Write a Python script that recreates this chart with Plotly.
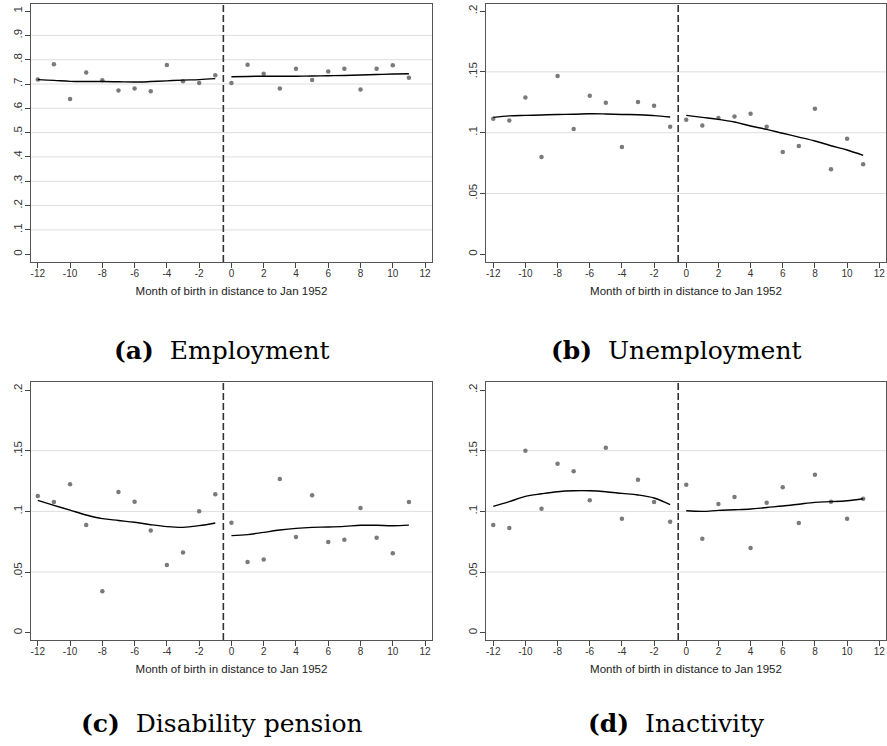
import plotly.graph_objects as go

months = list(range(-12, 12))
left_months = list(range(-12, 0))
right_months = list(range(0, 12))

# Binned means (dots)
employment = [0.718, 0.781, 0.638, 0.747, 0.715, 0.673, 0.681, 0.670, 0.778, 0.711, 0.704, 0.736,
              0.704, 0.779, 0.742, 0.681, 0.763, 0.716, 0.751, 0.763, 0.677, 0.763, 0.777, 0.726]
unemployment = [0.1115, 0.110, 0.129, 0.080, 0.1466, 0.103, 0.1304, 0.1247, 0.0882, 0.1252, 0.1222, 0.1049,
                0.1107, 0.106, 0.112, 0.1134, 0.1156, 0.1049, 0.0841, 0.089, 0.1197, 0.0699, 0.0951, 0.074]
disability = [0.1126, 0.1077, 0.1223, 0.0887, 0.0341, 0.1159, 0.108, 0.0843, 0.0558, 0.0662, 0.100, 0.114,
              0.0907, 0.0582, 0.0604, 0.1266, 0.0788, 0.1132, 0.0747, 0.0766, 0.1027, 0.0783, 0.0654, 0.1077]
inactivity = [0.0887, 0.0863, 0.150, 0.1022, 0.1393, 0.133, 0.1091, 0.1525, 0.094, 0.1261, 0.1077, 0.0915,
              0.122, 0.0775, 0.106, 0.1118, 0.0698, 0.1071, 0.1198, 0.0904, 0.1302, 0.108, 0.094, 0.1104]

# Local polynomial fits, left and right of the cutoff
employment_fit_left = [0.718, 0.715, 0.711, 0.710, 0.710, 0.709, 0.708, 0.710, 0.713, 0.716, 0.718, 0.722]
employment_fit_right = [0.730, 0.731, 0.732, 0.732, 0.732, 0.733, 0.734, 0.735, 0.737, 0.739, 0.741, 0.742]
unemployment_fit_left = [0.1126, 0.1138, 0.1142, 0.1146, 0.1150, 0.1152, 0.1156, 0.1154, 0.1150, 0.1148, 0.1140, 0.1129]
unemployment_fit_right = [0.1142, 0.1126, 0.1110, 0.1088, 0.1055, 0.1027, 0.0995, 0.0964, 0.0932, 0.0893, 0.0858, 0.0814]
disability_fit_left = [0.109, 0.105, 0.101, 0.097, 0.094, 0.0925, 0.091, 0.089, 0.0874, 0.0868, 0.0882, 0.0904]
disability_fit_right = [0.080, 0.0808, 0.0827, 0.0846, 0.086, 0.0868, 0.0871, 0.0876, 0.0885, 0.0885, 0.0882, 0.0887]
inactivity_fit_left = [0.1041, 0.108, 0.1124, 0.1145, 0.1162, 0.117, 0.117, 0.1162, 0.1148, 0.1135, 0.111, 0.1055]
inactivity_fit_right = [0.1005, 0.100, 0.1008, 0.1013, 0.1019, 0.1032, 0.1044, 0.1059, 0.1074, 0.1080, 0.1088, 0.1104]

x_ticks = list(range(-12, 13, 2))
y_ticks_a = [0, 0.1, 0.2, 0.3, 0.4, 0.5, 0.6, 0.7, 0.8, 0.9, 1.0]
y_labels_a = ["0", ".1", ".2", ".3", ".4", ".5", ".6", ".7", ".8", ".9", "1"]
y_ticks_b = [0, 0.05, 0.1, 0.15, 0.2]
y_labels_b = ["0", ".05", ".1", ".15", ".2"]

captions = ["Employment", "Unemployment", "Disability pension", "Inactivity"]
letters = ["(a)", "(b)", "(c)", "(d)"]
cutoff = -0.5
x_title = "Month of birth in distance to Jan 1952"

W, H = 887, 746
panels = [
    dict(dots=employment, fl=employment_fit_left, fr=employment_fit_right,
         px=(31, 432), py=(4, 262), xr=(-12.42, 12.43), yr=(-0.032, 1.029),
         yt=y_ticks_a, yl=y_labels_a, cap_y=350),
    dict(dots=unemployment, fl=unemployment_fit_left, fr=unemployment_fit_right,
         px=(486, 886), py=(4, 262), xr=(-12.45, 12.42), yr=(-0.0063, 0.2058),
         yt=y_ticks_b, yl=y_labels_b, cap_y=350),
    dict(dots=disability, fl=disability_fit_left, fr=disability_fit_right,
         px=(31, 432), py=(382, 640), xr=(-12.42, 12.43), yr=(-0.006, 0.2066),
         yt=y_ticks_b, yl=y_labels_b, cap_y=723),
    dict(dots=inactivity, fl=inactivity_fit_left, fr=inactivity_fit_right,
         px=(486, 886), py=(382, 640), xr=(-12.45, 12.42), yr=(-0.006, 0.2066),
         yt=y_ticks_b, yl=y_labels_b, cap_y=723),
]

fig = go.Figure()
layout = dict(width=W, height=H, margin=dict(l=0, r=0, t=0, b=0),
              paper_bgcolor="white", plot_bgcolor="white", showlegend=False)
shapes = []
annotations = []
x_tick_font = dict(family="Liberation Sans, Arial", size=10, color="#333333")
y_tick_font = dict(family="Liberation Sans, Arial", size=11.5, color="#333333")

for i, p in enumerate(panels):
    n = "" if i == 0 else str(i + 1)
    xa, ya = "x" + n, "y" + n
    fig.add_trace(go.Scatter(x=months, y=p["dots"], mode="markers", xaxis=xa, yaxis=ya,
                             marker=dict(color="#7a7a7a", size=4.5)))
    fig.add_trace(go.Scatter(x=left_months, y=p["fl"], mode="lines", xaxis=xa, yaxis=ya,
                             line=dict(color="black", width=1.4, shape="spline")))
    fig.add_trace(go.Scatter(x=right_months, y=p["fr"], mode="lines", xaxis=xa, yaxis=ya,
                             line=dict(color="black", width=1.4, shape="spline")))
    xd = [p["px"][0] / W, p["px"][1] / W]
    yd = [1 - p["py"][1] / H, 1 - p["py"][0] / H]
    layout["xaxis" + n] = dict(domain=xd, range=list(p["xr"]), anchor=ya,
                               tickmode="array", tickvals=x_ticks, ticktext=[str(v) for v in x_ticks],
                               ticks="outside", ticklen=5, tickcolor="#444", tickwidth=1,
                               ticklabelstandoff=-3, ticklabeloverflow="allow",
                               showgrid=False, zeroline=False,
                               showline=True, linecolor="#555", linewidth=1, mirror=True,
                               tickfont=x_tick_font,
                               title=dict(text=x_title, standoff=8,
                                          font=dict(family="Liberation Sans, Arial", size=11.5, color="#222")))
    layout["yaxis" + n] = dict(domain=yd, range=list(p["yr"]), anchor=xa,
                               tickmode="array", tickvals=p["yt"], ticktext=p["yl"], tickangle=-90,
                               ticks="outside", ticklen=5, tickcolor="#444", tickwidth=1,
                               ticklabelstandoff=-2,
                               showgrid=False, zeroline=False,
                               showline=True, linecolor="#555", linewidth=1, mirror=True,
                               tickfont=y_tick_font)
    # interior gridlines
    for v in p["yt"][1:-1]:
        shapes.append(dict(type="line", xref=xa + " domain", yref=ya, x0=0, x1=1, y0=v, y1=v,
                           line=dict(color="#dedede", width=1), layer="below"))
    # cutoff dashed line
    shapes.append(dict(type="line", xref=xa, yref=ya + " domain", x0=cutoff, x1=cutoff, y0=0, y1=1,
                       line=dict(color="#333333", width=1.6, dash="7px,3px")))
    annotations.append(dict(xref="paper", yref="paper", x=(xd[0] + xd[1]) / 2 - 0.011, y=1 - p["cap_y"] / H,
                            text="<b>" + letters[i] + "</b>  " + captions[i], showarrow=False,
                            xanchor="center", yanchor="middle",
                            font=dict(family="DejaVu Serif", size=25, color="black")))

layout["shapes"] = shapes
layout["annotations"] = annotations
fig.update_layout(**layout)
fig.write_html("out.html", config={"displayModeBar": False},
               post_script="document.body.style.margin='0';document.body.style.overflow='hidden';")
